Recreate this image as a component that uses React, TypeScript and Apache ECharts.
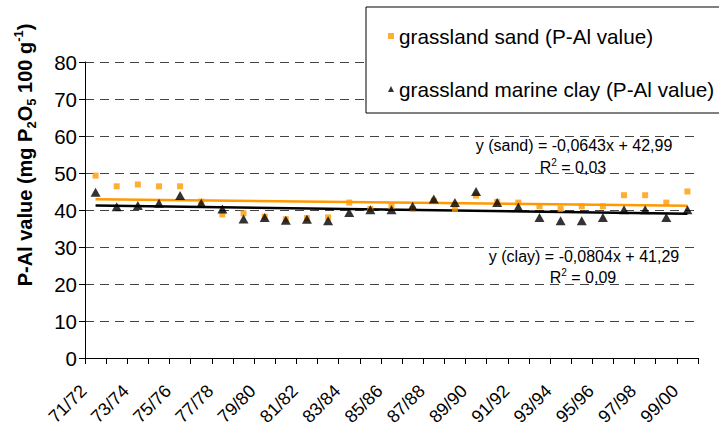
import React, { useEffect, useRef } from "react";
import * as echarts from "echarts";

const categories = [
  "71/72", "72/73", "73/74", "74/75", "75/76", "76/77", "77/78", "78/79", "79/80", "80/81",
  "81/82", "82/83", "83/84", "84/85", "85/86", "86/87", "87/88", "88/89", "89/90", "90/91",
  "91/92", "92/93", "93/94", "94/95", "95/96", "96/97", "97/98", "98/99", "99/00",
];

const sandValues = [
  49.3, 46.4, 46.9, 46.4, 46.4, 42.3, 38.8, 39.1, 38.2, 37.5,
  37.8, 38.0, 42.0, 40.3, 41.0, 40.3, 42.5, 40.3, 43.9, 42.2,
  42.0, 41.0, 40.3, 41.0, 41.0, 44.0, 44.0, 42.0, 45.0,
];

const clayValues = [
  44.8, 40.9, 41.2, 41.8, 43.9, 41.8, 40.3, 37.6, 38.0, 37.2,
  37.5, 37.1, 39.3, 40.1, 40.1, 41.0, 43.0, 42.0, 45.0, 42.0,
  40.8, 38.0, 37.1, 37.1, 38.0, 40.1, 40.1, 38.0, 40.1,
];

// trend line end values (first and last season)
const sandTrend = [42.93, 41.13];
const clayTrend = [41.21, 38.96];

const sandName = "grassland sand (P-Al value)";
const clayName = "grassland marine clay (P-Al value)";

const FONT = "'Liberation Sans', Arial, sans-serif";

export default function App() {
  const ref = useRef<HTMLDivElement>(null);

  useEffect(() => {
    if (!ref.current) return;
    const chart = echarts.init(ref.current, null, { renderer: "svg" });
    const last = categories.length - 1;

    const eqRich = {
      n: { fontSize: 16, fontFamily: FONT, color: "#000", lineHeight: 20 },
      sup: { fontSize: 10, fontFamily: FONT, color: "#000", lineHeight: 10, verticalAlign: "top" },
    };

    chart.setOption({
      animation: false,
      backgroundColor: "#fff",
      grid: { left: 85, right: 21, top: 62, bottom: 72, containLabel: false },
      legend: {
        left: 366,
        top: 7,
        orient: "vertical",
        padding: [17, 50, 12, 22],
        itemGap: 29,
        itemWidth: 6,
        itemHeight: 6,
        backgroundColor: "#fff",
        borderColor: "#000",
        borderWidth: 1,
        borderRadius: 0,
        textStyle: { fontSize: 20.7, fontFamily: FONT, color: "#000", lineHeight: 24 },
        data: [sandName, clayName],
        selectedMode: false,
      },
      xAxis: {
        type: "category",
        data: categories,
        boundaryGap: true,
        axisLine: { lineStyle: { color: "#000", width: 1 } },
        axisTick: { show: true, interval: 0, length: 6, lineStyle: { color: "#000" } },
        axisLabel: {
          interval: 1,
          rotate: 45,
          fontSize: 18,
          fontFamily: FONT,
          color: "#000",
          margin: 18,
          padding: [0, 17, 0, 0],
        },
        splitLine: { show: false },
      },
      yAxis: {
        type: "value",
        min: 0,
        max: 80,
        interval: 10,
        axisLine: { show: true, lineStyle: { color: "#000", width: 1 } },
        axisTick: { show: true, length: 6, lineStyle: { color: "#000" } },
        axisLabel: { fontSize: 20.5, fontFamily: FONT, color: "#000", margin: 8 },
        splitLine: { show: true, lineStyle: { color: "#444", type: [9, 6], width: 1 } },
      },
      graphic: [
        {
          type: "text",
          x: 25,
          y: 155,
          rotation: Math.PI / 2,
          style: {
            text: "{b|P-Al value (mg P}{sub|2}{b|O}{sub|5}{b| 100 g}{sup|-1}{b|)}",
            align: "center",
            verticalAlign: "middle",
            rich: {
              b: { fontSize: 20, fontWeight: "bold", fontFamily: FONT, color: "#000", lineHeight: 26 },
              sub: { fontSize: 13, fontWeight: "bold", fontFamily: FONT, color: "#000", lineHeight: 13, verticalAlign: "bottom" },
              sup: { fontSize: 13, fontWeight: "bold", fontFamily: FONT, color: "#000", lineHeight: 13, verticalAlign: "top" },
            },
          },
        },
        {
          type: "text",
          x: 574,
          y: 145,
          style: { text: "y (sand) = -0,0643x + 42,99", fontSize: 16, fontFamily: FONT, fill: "#000", align: "center", verticalAlign: "middle" },
          z: 10,
        },
        {
          type: "text",
          x: 573,
          y: 167,
          style: { text: "{n|R}{sup|2}{n| = 0,03}", rich: eqRich, align: "center", verticalAlign: "middle" },
          z: 10,
        },
        {
          type: "text",
          x: 584,
          y: 256,
          style: { text: "y (clay) = -0,0804x + 41,29", fontSize: 16, fontFamily: FONT, fill: "#000", align: "center", verticalAlign: "middle" },
          z: 10,
        },
        {
          type: "text",
          x: 583,
          y: 277,
          style: { text: "{n|R}{sup|2}{n| = 0,09}", rich: eqRich, align: "center", verticalAlign: "middle" },
          z: 10,
        },
      ],
      series: [
        {
          name: "sand trend",
          type: "line",
          data: [[categories[0], sandTrend[0]], [categories[last], sandTrend[1]]],
          symbol: "none",
          lineStyle: { color: "#FF9900", width: 2.5 },
          silent: true,
          z: 1,
        },
        {
          name: "clay trend",
          type: "line",
          data: [[categories[0], clayTrend[0]], [categories[last], clayTrend[1]]],
          symbol: "none",
          lineStyle: { color: "#000", width: 2.5 },
          silent: true,
          z: 1,
        },
        {
          name: sandName,
          type: "scatter",
          data: sandValues,
          symbol: "rect",
          symbolSize: 6,
          itemStyle: { color: "#FF9900" },
          z: 3,
        },
        {
          name: clayName,
          type: "scatter",
          data: clayValues,
          symbol: "triangle",
          symbolSize: [10, 9],
          itemStyle: { color: "#000" },
          z: 4,
        },
      ],
    });

    return () => chart.dispose();
  }, []);

  return (
    <div
      ref={ref}
      style={{ position: "fixed", left: 0, top: 0, width: 719, height: 430 }}
    />
  );
}
